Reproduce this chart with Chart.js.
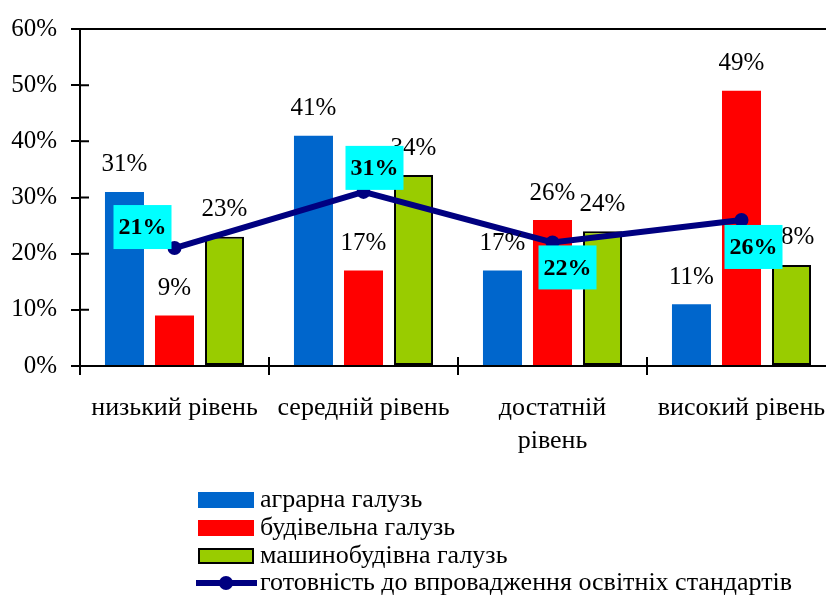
<!DOCTYPE html>
<html><head><meta charset="utf-8">
<script src="https://cdn.jsdelivr.net/npm/chart.js@4.4.0/dist/chart.umd.min.js"></script>
<style>
html,body{margin:0;padding:0;overflow:hidden;background:#fff;width:826px;height:598px}
#wrap{position:absolute;left:0;top:0;width:860px;height:598px}
</style>
</head><body><div id="wrap"><canvas id="c" width="860" height="598"></canvas></div>
<script>
const categories = ['низький рівень', 'середній рівень', ['достатній', 'рівень'], 'високий рівень'];
const seriesNames = ['аграрна галузь', 'будівельна галузь', 'машинобудівна галузь', 'готовність до впровадження освітніх стандартів'];
const agrarian = [31, 41, 17, 11];
const construction = [9, 17, 26, 49];
const machinery = [23, 34, 24, 18];
const readiness = [21, 31, 22, 26];
const yMin = 0, yMax = 60, yStep = 10;

const SERIF = '"Liberation Serif", "Times New Roman", serif';

const barLabels = {
  id: 'barLabels',
  afterDatasetsDraw(chart) {
    const ctx = chart.ctx;
    ctx.save();
    ctx.font = '25px ' + SERIF;
    ctx.fillStyle = '#000';
    ctx.textAlign = 'center';
    ctx.textBaseline = 'middle';
    chart.data.datasets.forEach((ds, i) => {
      if (ds.type !== 'bar') return;
      chart.getDatasetMeta(i).data.forEach((el, j) => {
        ctx.fillText(ds.data[j] + '%', el.x, el.y - 27);
      });
    });
    // boxes for line labels
    const boxOffsets = [[-32, -21], [11, -24], [15, 25], [12, 27]];
    const li = chart.data.datasets.findIndex(d => d.type === 'line');
    const meta = chart.getDatasetMeta(li);
    ctx.font = 'bold 24px ' + SERIF;
    meta.data.forEach((pt, j) => {
      const cx = pt.x + boxOffsets[j][0], cy = pt.y + boxOffsets[j][1];
      ctx.fillStyle = '#00FFFF';
      ctx.fillRect(cx - 29, cy - 22, 58, 44);
      ctx.fillStyle = '#000';
      ctx.fillText(chart.data.datasets[li].data[j] + '%', cx, cy + 1);
    });
    ctx.restore();
  }
};

const axisExtras = {
  id: 'axisExtras',
  afterDraw(chart) {
    const ctx = chart.ctx, a = chart.chartArea;
    const xs = chart.scales.x, ys = chart.scales.y;
    ctx.save();
    ctx.strokeStyle = '#000';
    ctx.lineWidth = 2;
    ctx.beginPath();
    // top border
    ctx.moveTo(a.left - 9, a.top);
    ctx.lineTo(a.right, a.top);
    // upper half of x cross ticks
    const n = categories.length;
    const step = xs.getPixelForTick(1) - xs.getPixelForTick(0);
    for (let i = 0; i < n; i++) {
      const x = xs.getPixelForTick(i) + step / 2;
      ctx.moveTo(x, a.bottom - 9);
      ctx.lineTo(x, a.bottom);
    }
    // right half of y cross ticks
    for (let v = yMin; v <= yMax; v += yStep) {
      const y = ys.getPixelForValue(v);
      ctx.moveTo(a.left, y);
      ctx.lineTo(a.left + 9, y);
    }
    ctx.stroke();

    // legend
    const lx = 198, rows = [500, 528, 556, 583];
    ctx.font = '26px ' + SERIF;
    ctx.textAlign = 'left';
    ctx.textBaseline = 'middle';
    const order = [1, 2, 3, 0];
    order.forEach((di, r) => {
      const ds = chart.data.datasets[di];
      const y = rows[r];
      if (ds.type === 'bar') {
        ctx.fillStyle = ds.backgroundColor;
        ctx.fillRect(lx, y - 8, 56, 16);
        if (ds.borderWidth) {
          ctx.lineWidth = 2; ctx.strokeStyle = '#000';
          ctx.strokeRect(lx + 1, y - 7, 54, 14);
        }
      } else {
        ctx.strokeStyle = ds.borderColor; ctx.lineWidth = 6;
        ctx.beginPath(); ctx.moveTo(lx - 2, y); ctx.lineTo(lx + 59, y); ctx.stroke();
        ctx.fillStyle = ds.borderColor;
        ctx.beginPath(); ctx.arc(lx + 28, y, 7, 0, Math.PI * 2); ctx.fill();
      }
      ctx.fillStyle = '#000';
      ctx.fillText(ds.label, lx + 62, y);
    });
    ctx.restore();
  }
};

new Chart(document.getElementById('c'), {
  data: {
    labels: categories,
    datasets: [
      { type: 'line', label: seriesNames[3], data: readiness, order: 0,
        borderColor: '#000080', backgroundColor: '#000080', borderWidth: 6,
        pointRadius: 7, pointBackgroundColor: '#000080', pointBorderWidth: 0, tension: 0 },
      { type: 'bar', label: seriesNames[0], data: agrarian, order: 1, backgroundColor: '#0066CC', borderWidth: 0 },
      { type: 'bar', label: seriesNames[1], data: construction, order: 1, backgroundColor: '#FF0000', borderWidth: 0 },
      { type: 'bar', label: seriesNames[2], data: machinery, order: 1, backgroundColor: '#99CC00', borderColor: '#000', borderWidth: 2, borderSkipped: false }
    ]
  },
  options: {
    responsive: false,
    animation: false,
    devicePixelRatio: 1,
    datasets: { bar: { categoryPercentage: 0.794, barPercentage: 0.78 } },
    layout: { padding: { top: 24, right: 24, left: 0, bottom: 0 } },
    plugins: { legend: { display: false }, tooltip: { enabled: false } },
    scales: {
      x: {
        offset: true,
        grid: { display: true, offset: true, drawOnChartArea: false, drawTicks: true, tickLength: 9, color: '#000', lineWidth: 2 },
        border: { display: true, color: '#000', width: 2 },
        ticks: { color: '#000', font: { family: SERIF, size: 26, lineHeight: 1.27 }, padding: 17, maxRotation: 0, autoSkip: false },
        afterFit(s) { s.height = 232; }
      },
      y: {
        min: yMin, max: yMax,
        grid: { display: true, drawOnChartArea: false, drawTicks: true, tickLength: 9, color: '#000', lineWidth: 2 },
        border: { display: true, color: '#000', width: 2 },
        ticks: { stepSize: yStep, color: '#000', font: { family: SERIF, size: 25 }, padding: 14, callback: v => v + '%' },
        afterFit(s) { s.width = 80; }
      }
    }
  },
  plugins: [barLabels, axisExtras]
});
</script>
</body></html>
